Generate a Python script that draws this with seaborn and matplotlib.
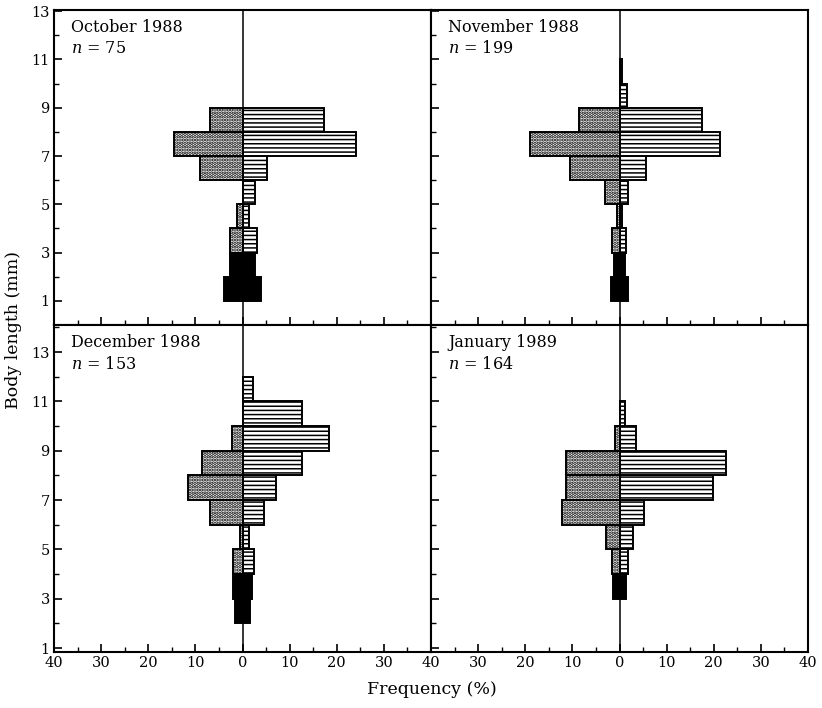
import matplotlib
matplotlib.use("Agg")
import matplotlib.pyplot as plt
import seaborn as sns
import numpy as np
import pandas as pd

# ---------------- data ----------------
months = ["October 1988", "November 1988", "December 1988", "January 1989"]
sample_sizes = [75, 199, 153, 164]

# lower edge of each 1-mm body-length class
bin_lower = [1, 2, 3, 4, 5, 6, 7, 8, 9, 10, 11]

# stippled bars (left side, %)
oct_stippled = [0, 0, 2.7, 1.2, 0, 9.1, 14.6, 6.8, 0, 0, 0]
nov_stippled = [0, 0, 1.5, 0.6, 3.0, 10.6, 19.0, 8.7, 0, 0, 0]
dec_stippled = [0, 0, 0, 2.0, 0.6, 6.8, 11.6, 8.7, 2.3, 0, 0]
jan_stippled = [0, 0, 0, 1.6, 2.9, 12.2, 11.3, 11.3, 1.0, 0, 0]

# horizontally hatched bars (right side, %)
oct_hatched = [0, 0, 3.0, 1.3, 2.6, 5.3, 24.0, 17.3, 0, 0, 0]
nov_hatched = [0, 0, 1.4, 0.6, 1.8, 5.6, 21.4, 17.5, 1.5, 0.6, 0]
dec_hatched = [0, 0, 0, 2.4, 1.3, 4.5, 7.1, 12.6, 18.3, 12.6, 2.2]
jan_hatched = [0, 0, 0, 1.9, 2.8, 5.2, 19.9, 22.6, 3.5, 1.1, 0]

# solid black bars (drawn symmetrically about zero, % on each side)
oct_black = [4.0, 2.6, 0, 0, 0, 0, 0, 0, 0, 0, 0]
nov_black = [1.8, 1.2, 0, 0, 0, 0, 0, 0, 0, 0, 0]
dec_black = [0, 1.6, 2.0, 0, 0, 0, 0, 0, 0, 0, 0]
jan_black = [0, 0, 1.3, 0, 0, 0, 0, 0, 0, 0, 0]

stippled = [oct_stippled, nov_stippled, dec_stippled, jan_stippled]
hatched = [oct_hatched, nov_hatched, dec_hatched, jan_hatched]
black = [oct_black, nov_black, dec_black, jan_black]

x_ticks = [-40, -30, -20, -10, 0, 10, 20, 30, 40]
y_ticks = [1, 3, 5, 7, 9, 11, 13]

# ---------------- style ----------------
sns.set_theme(style="ticks")
plt.rcParams["font.family"] = ["DejaVu Serif"]
plt.rcParams["mathtext.fontset"] = "dejavuserif"
plt.rcParams["hatch.linewidth"] = 1.1
plt.rcParams["axes.linewidth"] = 1.5

fig = plt.figure(figsize=(8.22, 7.08), dpi=100)
gs = fig.add_gridspec(2, 2, left=54 / 822, right=808 / 822,
                      top=1 - 10 / 708, bottom=1 - 652 / 708,
                      hspace=0, wspace=0, height_ratios=[315, 327])
axes = [fig.add_subplot(gs[i, j]) for i in range(2) for j in range(2)]

centers = np.array(bin_lower) + 0.5


def bars(ax, values, hatch_lw=None, **kw):
    n_before = len(ax.patches)
    df = pd.DataFrame({"length": centers, "freq": np.asarray(values, float)})
    sns.barplot(data=df, x="freq", y="length", orient="y", native_scale=True,
                width=1.0, saturation=1, errorbar=None, ax=ax,
                edgecolor="black", linewidth=1.4, **kw)
    for p in ax.patches[n_before:]:
        if abs(p.get_width()) < 1e-9:
            p.set_visible(False)
        elif hatch_lw is not None and hasattr(p, "set_hatch_linewidth"):
            p.set_hatch_linewidth(hatch_lw)


for k, ax in enumerate(axes):
    bars(ax, -np.asarray(stippled[k]), hatch_lw=1.7, color="white", hatch=".....")
    bars(ax, hatched[k], hatch_lw=1.1, color="white", hatch="----")
    bars(ax, black[k], color="black")
    bars(ax, -np.asarray(black[k]), color="black")

    row, col = divmod(k, 2)
    if row == 0:
        ylo, yhi = 0, 13.05
        minors = [2, 4, 6, 8, 10, 12]
    else:
        ylo, yhi = 0.84, 14.1
        minors = [2, 4, 6, 8, 10, 12, 14]

    ax.set_xticks(x_ticks)
    ax.set_xticks(np.arange(-35, 40, 10), minor=True)
    ax.set_yticks(y_ticks)
    ax.set_yticks(minors, minor=True)
    ax.set_xlim(-40, 40)
    ax.set_ylim(ylo, yhi)
    ax.plot([0, 0], [ylo, yhi], color="black", lw=1.1, zorder=6,
            solid_capstyle="butt")

    ax.tick_params(which="both", direction="in", top=False, right=False,
                   color="black", labelsize=10.5, labelcolor="black", pad=3)
    ax.tick_params(which="major", length=6, width=1.2)
    ax.tick_params(which="minor", length=3.5, width=1.0)

    if row == 1:
        labels = [str(abs(t)) for t in x_ticks]
        if col == 1:
            labels[0] = ""
        ax.set_xticklabels(labels)
    else:
        ax.set_xticklabels([])
    if col == 0:
        ax.set_yticklabels([str(t) for t in y_ticks])
    else:
        ax.set_yticklabels([])

    ax.set_xlabel("")
    ax.set_ylabel("")
    for sp in ax.spines.values():
        sp.set_color("black")
        sp.set_linewidth(1.5)
        sp.set_visible(True)

    ax.text(0.045, 0.972, months[k], transform=ax.transAxes,
            fontsize=11.5, va="top", ha="left", color="black")
    ax.text(0.045, 0.905, f"$n$ = {sample_sizes[k]}", transform=ax.transAxes,
            fontsize=11.5, va="top", ha="left", color="black")

fig.text(14 / 822, 1 - 330 / 708, "Body length (mm)", rotation=90,
         ha="center", va="center", fontsize=12.5, color="black")
fig.text(432 / 822, 1 - 690 / 708, "Frequency (%)", ha="center",
         va="center", fontsize=12.5, color="black")

fig.savefig("out.png", dpi=100, facecolor="white")
